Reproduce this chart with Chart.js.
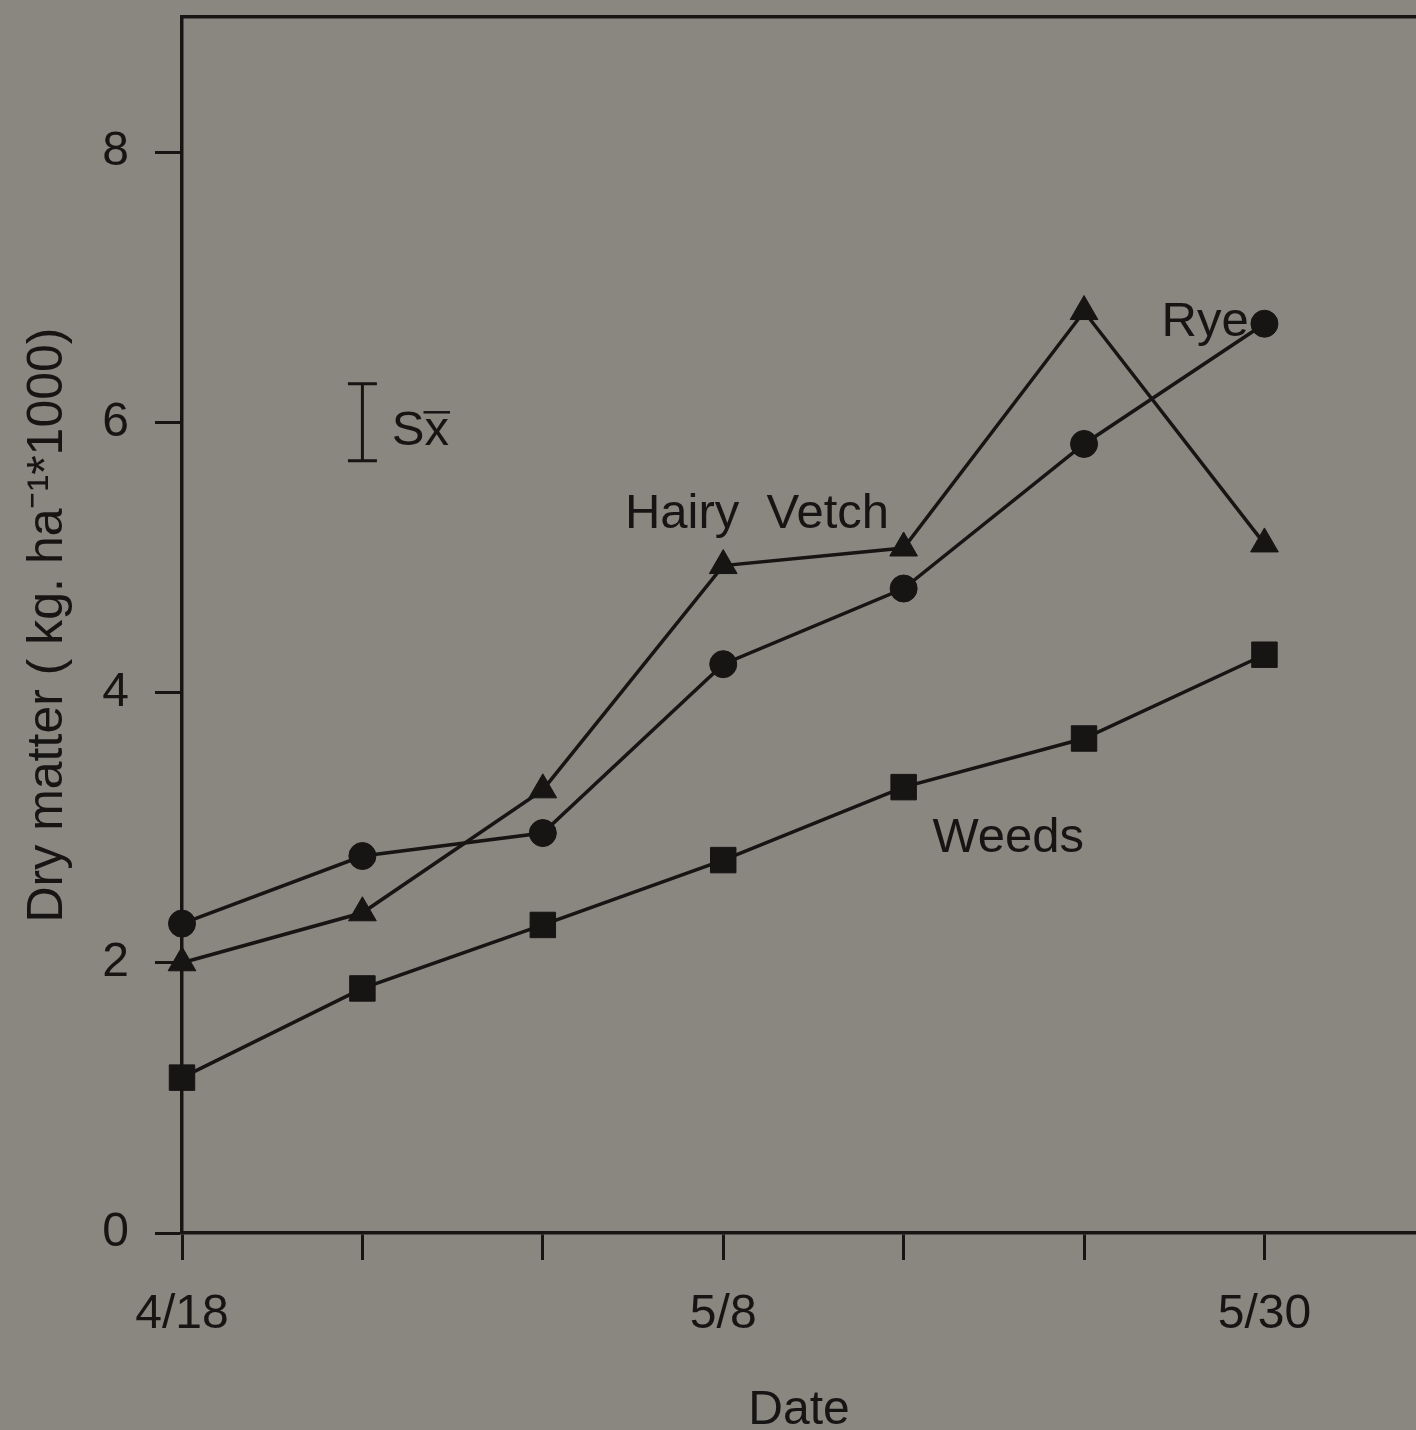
<!DOCTYPE html>
<html>
<head>
<meta charset="utf-8">
<script src="https://cdn.jsdelivr.net/npm/chart.js@4.4.1/dist/chart.umd.min.js"></script>
<style>
  html, body { margin: 0; padding: 0; background: #8a8781; overflow: hidden; }
  canvas { display: block; }
</style>
</head>
<body>
<canvas id="c" width="1416" height="1430"></canvas>
<script>
// Sampling dates (index of each harvest) and their axis labels
const dateIndex = [0, 1, 2, 3, 4, 5, 6];
const dateLabels = ['4/18', '', '', '5/8', '', '', '5/30'];

// Dry matter, kg ha-1 * 1000
const rye        = [2.29, 2.79, 2.96, 4.21, 4.77, 5.84, 6.73];
const hairyVetch = [2.00, 2.37, 3.28, 4.94, 5.07, 6.82, 5.10];
const weeds      = [1.15, 1.81, 2.28, 2.76, 3.30, 3.66, 4.28];

// Standard error of the mean, shown as a reference bar
const seDate = 1;
const seCenter = 6.0;
const seHalf = 0.285;

const yTicks = [0, 2, 4, 6, 8];

const INK = '#161514';
const BG = '#8a8781';
const FONT = '"Liberation Sans", Arial, Helvetica, sans-serif';

const toPoints = vals => dateIndex.map((d, i) => ({ x: d, y: vals[i] }));

const lineStyle = (style, radius) => ({
  borderColor: INK,
  borderWidth: 3.5,
  backgroundColor: INK,
  pointStyle: style,
  pointRadius: radius,
  pointHoverRadius: radius,
  pointBackgroundColor: INK,
  pointBorderColor: INK,
  pointBorderWidth: 1,
  tension: 0,
  clip: false
});

// keep the plot frame exactly where the axes put it
const noEdgePadding = s => {
  s.paddingLeft = 0; s.paddingRight = 0;
  s.paddingTop = 0; s.paddingBottom = 0;
};

const paper = {
  id: 'paper',
  beforeDraw(chart) {
    const { ctx, width, height } = chart;
    ctx.save();
    ctx.fillStyle = BG;
    ctx.fillRect(0, 0, width, height);
    ctx.restore();
  }
};

// Series names and the standard-error bar
const notes = {
  id: 'notes',
  afterDatasetsDraw(chart) {
    const { ctx, scales: { x, y } } = chart;
    ctx.save();
    ctx.fillStyle = INK;
    ctx.strokeStyle = INK;
    ctx.font = '49px ' + FONT;
    ctx.textBaseline = 'alphabetic';
    ctx.textAlign = 'left';

    ctx.fillText('Hairy  Vetch', x.getPixelForValue(2.455), y.getPixelForValue(5.22));
    ctx.fillText('Rye', x.getPixelForValue(5.43), y.getPixelForValue(6.64));
    ctx.fillText('Weeds', x.getPixelForValue(4.16), y.getPixelForValue(2.82));

    // error bar
    const bx = x.getPixelForValue(seDate);
    const top = y.getPixelForValue(seCenter + seHalf);
    const bot = y.getPixelForValue(seCenter - seHalf);
    ctx.lineWidth = 3;
    ctx.beginPath();
    ctx.moveTo(bx, top); ctx.lineTo(bx, bot);
    ctx.moveTo(bx - 14.5, top); ctx.lineTo(bx + 14.5, top);
    ctx.moveTo(bx - 14.5, bot); ctx.lineTo(bx + 14.5, bot);
    ctx.stroke();

    // S x-bar label
    const lx = x.getPixelForValue(1.163);
    const ly = y.getPixelForValue(5.83);
    ctx.fillText('S', lx, ly);
    const sw = ctx.measureText('S').width;
    ctx.fillText('x', lx + sw, ly);
    const xw = ctx.measureText('x').width;
    ctx.lineWidth = 2.5;
    ctx.beginPath();
    ctx.moveTo(lx + sw - 1, ly - 33);
    ctx.lineTo(lx + sw + xw + 1, ly - 33);
    ctx.stroke();
    ctx.restore();
  }
};

const tickGrid = {
  drawOnChartArea: false,
  drawTicks: true,
  tickLength: 27,
  tickWidth: 3,
  tickColor: INK,
  color: INK
};

new Chart(document.getElementById('c'), {
  type: 'line',
  data: {
    datasets: [
      Object.assign({ label: 'Rye', data: toPoints(rye) }, lineStyle('circle', 13.5)),
      Object.assign({ label: 'Hairy Vetch', data: toPoints(hairyVetch) }, lineStyle('triangle', 16)),
      Object.assign({ label: 'Weeds', data: toPoints(weeds) }, lineStyle('rect', 18))
    ]
  },
  options: {
    responsive: false,
    animation: false,
    devicePixelRatio: 1,
    layout: { padding: 0, autoPadding: false },
    plugins: { legend: { display: false }, tooltip: { enabled: false } },
    scales: {
      x: {
        type: 'linear',
        position: 'bottom',
        min: 0,
        max: 6.84,
        afterBuildTicks: s => { s.ticks = dateIndex.map(v => ({ value: v })); },
        afterFit: s => { s.height = 197; noEdgePadding(s); },
        ticks: {
          autoSkip: false,
          maxRotation: 0,
          padding: 26,
          color: INK,
          font: { family: FONT, size: 48 },
          callback: v => dateLabels[v] ?? ''
        },
        grid: tickGrid,
        border: { display: true, color: INK, width: 3.5 },
        title: {
          display: true,
          text: 'Date',
          color: INK,
          font: { family: FONT, size: 48, lineHeight: 0.8 },
          padding: { top: 0, bottom: 0 }
        }
      },
      xTop: {
        type: 'linear',
        position: 'top',
        min: 0,
        max: 6.84,
        ticks: { display: false },
        grid: { display: false },
        border: { display: true, color: INK, width: 3.5 },
        afterFit: s => { s.height = 17; noEdgePadding(s); }
      },
      y: {
        min: 0,
        max: 9,
        afterBuildTicks: s => { s.ticks = yTicks.map(v => ({ value: v })); },
        afterFit: s => { s.width = 182; noEdgePadding(s); },
        ticks: {
          padding: 26,
          color: INK,
          font: { family: FONT, size: 48 }
        },
        grid: tickGrid,
        border: { display: true, color: INK, width: 3.5 },
        title: {
          display: true,
          text: 'Dry matter ( kg. ha⁻¹*1000)',
          color: INK,
          font: { family: FONT, size: 50, lineHeight: 1 },
          padding: { top: 23, bottom: 0 }
        }
      }
    }
  },
  plugins: [paper, notes]
});
</script>
</body>
</html>
